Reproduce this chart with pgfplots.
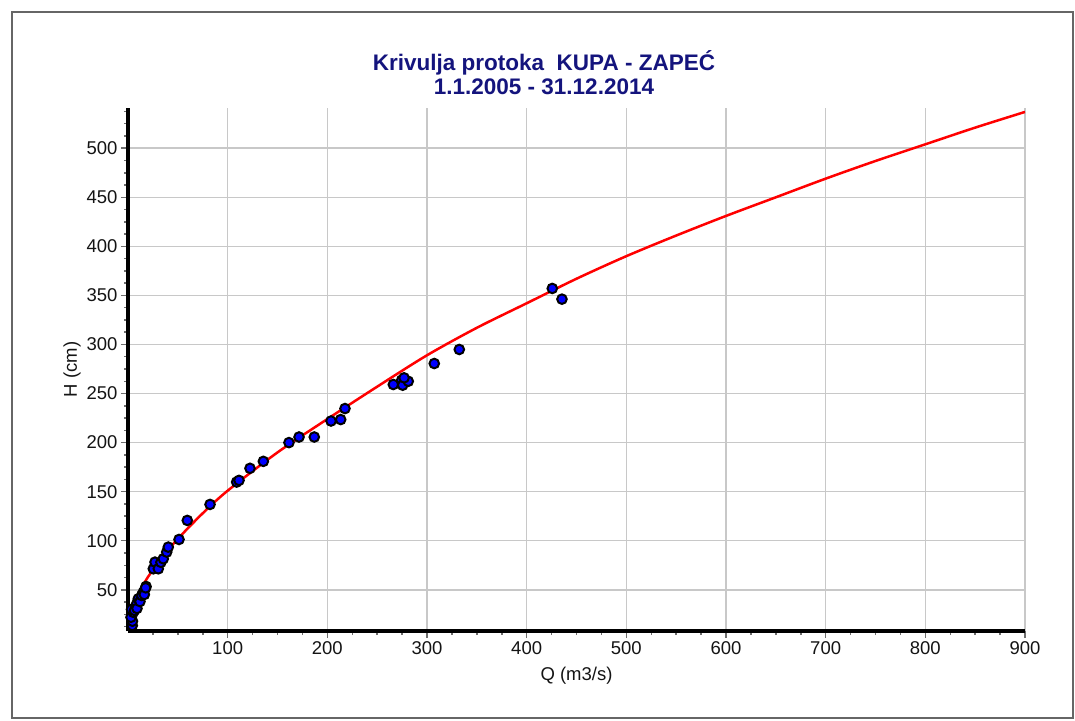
\documentclass[border=0pt]{standalone}
\usepackage{fontspec}
\setmainfont{Liberation Sans}
\usepackage{pgfplots}
\pgfplotsset{compat=1.18}
\definecolor{titleblue}{RGB}{20,20,125}
\definecolor{gridgray}{RGB}{200,200,200}
\definecolor{tickgray}{RGB}{110,110,110}
\definecolor{labelgray}{RGB}{20,20,20}
\begin{document}
\begin{tikzpicture}[x=1bp,y=1bp]
\path[use as bounding box] (0,0) rectangle (1075,-721);
\draw[line width=1.5bp, black!60] (12,-12) rectangle (1073,-718);
\node[font=\bfseries\fontsize{22.5bp}{24bp}\selectfont, text=titleblue, align=center] at (544,-73) {Krivulja protoka\ \ KUPA - ZAPEĆ\\1.1.2005 - 31.12.2014};
\begin{axis}[
  at={(128bp,-631bp)}, anchor=south west,
  scale only axis, width=897bp, height=523bp,
  xmin=0, xmax=900, ymin=8, ymax=541,
  axis lines=left,
  axis line style={-, line width=4bp, black},
  xtick={100,200,...,900}, ytick={50,100,...,500},
  minor xtick={25,50,...,875}, minor ytick={12.5,25,...,537.5},
  tick align=outside,
  major tick length=7bp, minor tick length=4bp,
  tick style={tickgray, line width=1.5bp},
  grid=major,
  major grid style={gridgray, line width=1.5bp},
  /pgf/number format/assume math mode=true,
  ticklabel style={font=\fontsize{18.5bp}{20bp}\selectfont, text=labelgray},
  label style={font=\fontsize{18.5bp}{20bp}\selectfont, text=labelgray},
  xlabel={Q (m3/s)},
  ylabel={H (cm)},
  xlabel style={at={(axis description cs:0.5,0)}, anchor=base, yshift=-49bp},
  ylabel style={at={(axis description cs:-0.0624,0.5)}, anchor=center},
]
\addplot[red, line width=2.5bp, smooth, no marks] coordinates {
(0,10) (1,18.7) (2,23) (3.5,28) (5,33) (7.5,39.5) (10,45) (15,54.5) (20,63)
(30,77) (40,90) (50,102) (75,128) (100,151) (150,190) (200,224) (250,257)
(300,289) (350,317) (400,342) (450,367) (500,390) (550,411) (600,431)
(650,450) (700,469) (750,487) (800,504) (850,521) (900,537)
};
\addplot[only marks, mark=*, mark size=4.8bp,
  mark options={draw=black, fill=blue, line width=2bp}] coordinates {
(4.3,13.6) (4.5,18) (3,22) (5.3,27.1) (3.5,30) (6.5,29) (8.7,35.7) (9,31)
(10.3,40.8) (12,38) (13.7,44.2) (15.4,47.6) (16.4,45.2) (18.1,53.4) (17.7,52)
(25.4,71.4) (27.1,78.2) (30.4,71.4) (33,78) (35.4,81.6) (38.8,88.4) (40.4,93.5)
(51.2,101.3) (59.5,120.7) (82.3,137) (109,159.8) (111.4,161.5) (122.4,173.8)
(135.8,180.9) (161.5,200) (171.6,205.7) (186.9,205.7) (203.7,222) (213.4,223.5)
(217.7,234.7) (266.2,259.2) (274.6,263.6) (275.6,258.5) (281.2,262.5) (277,266)
(307.3,280.6) (332.4,294.9) (425.7,357.1) (435.4,346.2)
};
\end{axis}
\end{tikzpicture}
\end{document}
